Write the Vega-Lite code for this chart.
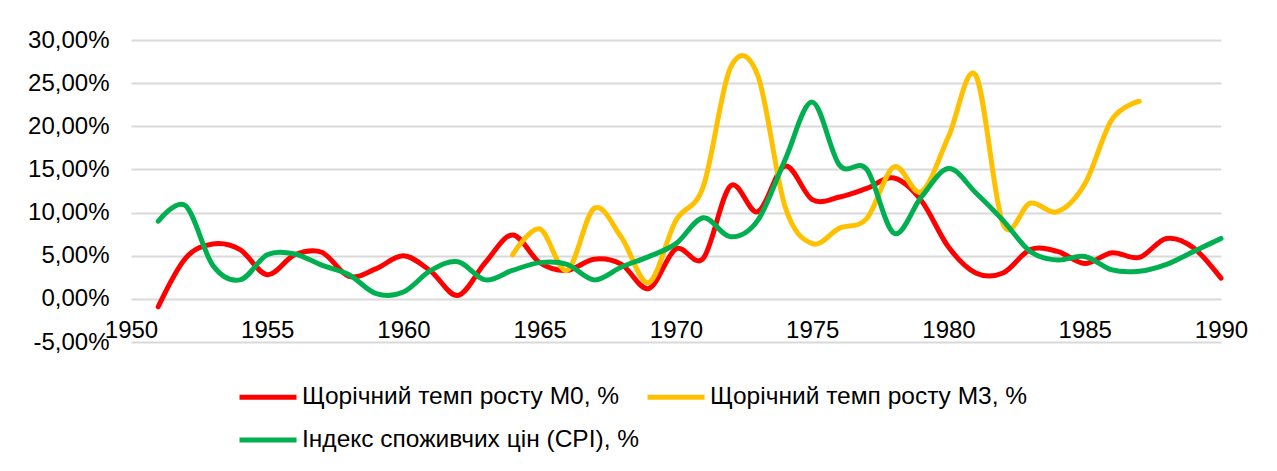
{
  "$schema": "https://vega.github.io/schema/vega-lite/v6.json",
  "width": 1090,
  "height": 302,
  "autosize": {"type": "none"},
  "padding": {"left": 131, "top": 40, "right": 56, "bottom": 129},
  "background": "white",
  "config": {"font": "Liberation Sans", "view": {"stroke": null}},
  "data": {"values": [
    {"year": 1951, "series": "Щорічний темп росту М0, %", "value": -0.009},
    {"year": 1952, "series": "Щорічний темп росту М0, %", "value": 0.047},
    {"year": 1953, "series": "Щорічний темп росту М0, %", "value": 0.0635},
    {"year": 1954, "series": "Щорічний темп росту М0, %", "value": 0.057},
    {"year": 1955, "series": "Щорічний темп росту М0, %", "value": 0.028},
    {"year": 1956, "series": "Щорічний темп росту М0, %", "value": 0.051},
    {"year": 1957, "series": "Щорічний темп росту М0, %", "value": 0.054},
    {"year": 1958, "series": "Щорічний темп росту М0, %", "value": 0.026},
    {"year": 1959, "series": "Щорічний темп росту М0, %", "value": 0.035},
    {"year": 1960, "series": "Щорічний темп росту М0, %", "value": 0.050},
    {"year": 1961, "series": "Щорічний темп росту М0, %", "value": 0.032},
    {"year": 1962, "series": "Щорічний темп росту М0, %", "value": 0.004},
    {"year": 1963, "series": "Щорічний темп росту М0, %", "value": 0.042},
    {"year": 1964, "series": "Щорічний темп росту М0, %", "value": 0.074},
    {"year": 1965, "series": "Щорічний темп росту М0, %", "value": 0.042},
    {"year": 1966, "series": "Щорічний темп росту М0, %", "value": 0.033},
    {"year": 1967, "series": "Щорічний темп росту М0, %", "value": 0.046},
    {"year": 1968, "series": "Щорічний темп росту М0, %", "value": 0.040},
    {"year": 1969, "series": "Щорічний темп росту М0, %", "value": 0.012},
    {"year": 1970, "series": "Щорічний темп росту М0, %", "value": 0.058},
    {"year": 1971, "series": "Щорічний темп росту М0, %", "value": 0.047},
    {"year": 1972, "series": "Щорічний темп росту М0, %", "value": 0.131},
    {"year": 1973, "series": "Щорічний темп росту М0, %", "value": 0.101},
    {"year": 1974, "series": "Щорічний темп росту М0, %", "value": 0.154},
    {"year": 1975, "series": "Щорічний темп росту М0, %", "value": 0.115},
    {"year": 1976, "series": "Щорічний темп росту М0, %", "value": 0.118},
    {"year": 1977, "series": "Щорічний темп росту М0, %", "value": 0.128},
    {"year": 1978, "series": "Щорічний темп росту М0, %", "value": 0.140},
    {"year": 1979, "series": "Щорічний темп росту М0, %", "value": 0.114},
    {"year": 1980, "series": "Щорічний темп росту М0, %", "value": 0.060},
    {"year": 1981, "series": "Щорічний темп росту М0, %", "value": 0.030},
    {"year": 1982, "series": "Щорічний темп росту М0, %", "value": 0.030},
    {"year": 1983, "series": "Щорічний темп росту М0, %", "value": 0.057},
    {"year": 1984, "series": "Щорічний темп росту М0, %", "value": 0.055},
    {"year": 1985, "series": "Щорічний темп росту М0, %", "value": 0.041},
    {"year": 1986, "series": "Щорічний темп росту М0, %", "value": 0.0535},
    {"year": 1987, "series": "Щорічний темп росту М0, %", "value": 0.048},
    {"year": 1988, "series": "Щорічний темп росту М0, %", "value": 0.070},
    {"year": 1989, "series": "Щорічний темп росту М0, %", "value": 0.059},
    {"year": 1990, "series": "Щорічний темп росту М0, %", "value": 0.024},
    {"year": 1964, "series": "Щорічний темп росту М3, %", "value": 0.051},
    {"year": 1965, "series": "Щорічний темп росту М3, %", "value": 0.081},
    {"year": 1966, "series": "Щорічний темп росту М3, %", "value": 0.033},
    {"year": 1967, "series": "Щорічний темп росту М3, %", "value": 0.105},
    {"year": 1968, "series": "Щорічний темп росту М3, %", "value": 0.071},
    {"year": 1969, "series": "Щорічний темп росту М3, %", "value": 0.019},
    {"year": 1970, "series": "Щорічний темп росту М3, %", "value": 0.091},
    {"year": 1971, "series": "Щорічний темп росту М3, %", "value": 0.130},
    {"year": 1972, "series": "Щорічний темп росту М3, %", "value": 0.268},
    {"year": 1973, "series": "Щорічний темп росту М3, %", "value": 0.259},
    {"year": 1974, "series": "Щорічний темп росту М3, %", "value": 0.107},
    {"year": 1975, "series": "Щорічний темп росту М3, %", "value": 0.064},
    {"year": 1976, "series": "Щорічний темп росту М3, %", "value": 0.082},
    {"year": 1977, "series": "Щорічний темп росту М3, %", "value": 0.093},
    {"year": 1978, "series": "Щорічний темп росту М3, %", "value": 0.153},
    {"year": 1979, "series": "Щорічний темп росту М3, %", "value": 0.124},
    {"year": 1980, "series": "Щорічний темп росту М3, %", "value": 0.188},
    {"year": 1981, "series": "Щорічний темп росту М3, %", "value": 0.259},
    {"year": 1982, "series": "Щорічний темп росту М3, %", "value": 0.087},
    {"year": 1983, "series": "Щорічний темп росту М3, %", "value": 0.111},
    {"year": 1984, "series": "Щорічний темп росту М3, %", "value": 0.101},
    {"year": 1985, "series": "Щорічний темп росту М3, %", "value": 0.133},
    {"year": 1986, "series": "Щорічний темп росту М3, %", "value": 0.208},
    {"year": 1987, "series": "Щорічний темп росту М3, %", "value": 0.229},
    {"year": 1951, "series": "Індекс споживчих цін (CPI), %", "value": 0.090},
    {"year": 1952, "series": "Індекс споживчих цін (CPI), %", "value": 0.108},
    {"year": 1953, "series": "Індекс споживчих цін (CPI), %", "value": 0.039},
    {"year": 1954, "series": "Індекс споживчих цін (CPI), %", "value": 0.022},
    {"year": 1955, "series": "Індекс споживчих цін (CPI), %", "value": 0.051},
    {"year": 1956, "series": "Індекс споживчих цін (CPI), %", "value": 0.052},
    {"year": 1957, "series": "Індекс споживчих цін (CPI), %", "value": 0.039},
    {"year": 1958, "series": "Індекс споживчих цін (CPI), %", "value": 0.028},
    {"year": 1959, "series": "Індекс споживчих цін (CPI), %", "value": 0.006},
    {"year": 1960, "series": "Індекс споживчих цін (CPI), %", "value": 0.008},
    {"year": 1961, "series": "Індекс споживчих цін (CPI), %", "value": 0.033},
    {"year": 1962, "series": "Індекс споживчих цін (CPI), %", "value": 0.043},
    {"year": 1963, "series": "Індекс споживчих цін (CPI), %", "value": 0.022},
    {"year": 1964, "series": "Індекс споживчих цін (CPI), %", "value": 0.033},
    {"year": 1965, "series": "Індекс споживчих цін (CPI), %", "value": 0.042},
    {"year": 1966, "series": "Індекс споживчих цін (CPI), %", "value": 0.040},
    {"year": 1967, "series": "Індекс споживчих цін (CPI), %", "value": 0.022},
    {"year": 1968, "series": "Індекс споживчих цін (CPI), %", "value": 0.037},
    {"year": 1969, "series": "Індекс споживчих цін (CPI), %", "value": 0.049},
    {"year": 1970, "series": "Індекс споживчих цін (CPI), %", "value": 0.064},
    {"year": 1971, "series": "Індекс споживчих цін (CPI), %", "value": 0.094},
    {"year": 1972, "series": "Індекс споживчих цін (CPI), %", "value": 0.072},
    {"year": 1973, "series": "Індекс споживчих цін (CPI), %", "value": 0.091},
    {"year": 1974, "series": "Індекс споживчих цін (CPI), %", "value": 0.161},
    {"year": 1975, "series": "Індекс споживчих цін (CPI), %", "value": 0.228},
    {"year": 1976, "series": "Індекс споживчих цін (CPI), %", "value": 0.155},
    {"year": 1977, "series": "Індекс споживчих цін (CPI), %", "value": 0.150},
    {"year": 1978, "series": "Індекс споживчих цін (CPI), %", "value": 0.076},
    {"year": 1979, "series": "Індекс споживчих цін (CPI), %", "value": 0.118},
    {"year": 1980, "series": "Індекс споживчих цін (CPI), %", "value": 0.151},
    {"year": 1981, "series": "Індекс споживчих цін (CPI), %", "value": 0.123},
    {"year": 1982, "series": "Індекс споживчих цін (CPI), %", "value": 0.091},
    {"year": 1983, "series": "Індекс споживчих цін (CPI), %", "value": 0.055},
    {"year": 1984, "series": "Індекс споживчих цін (CPI), %", "value": 0.045},
    {"year": 1985, "series": "Індекс споживчих цін (CPI), %", "value": 0.049},
    {"year": 1986, "series": "Індекс споживчих цін (CPI), %", "value": 0.0335},
    {"year": 1987, "series": "Індекс споживчих цін (CPI), %", "value": 0.032},
    {"year": 1988, "series": "Індекс споживчих цін (CPI), %", "value": 0.040},
    {"year": 1989, "series": "Індекс споживчих цін (CPI), %", "value": 0.055},
    {"year": 1990, "series": "Індекс споживчих цін (CPI), %", "value": 0.070}
  ]},
  "mark": {"type": "line", "interpolate": "cardinal", "strokeWidth": 5, "strokeCap": "round", "strokeJoin": "round"},
  "encoding": {
    "x": {
      "field": "year", "type": "quantitative",
      "scale": {"domain": [1950, 1990], "nice": false, "zero": false},
      "axis": {
        "title": null, "values": [1950, 1955, 1960, 1965, 1970, 1975, 1980, 1985, 1990],
        "format": "d", "offset": -43, "domain": false, "ticks": false, "grid": false,
        "labelFontSize": 24, "labelColor": "#000000", "labelPadding": 19, "labelFlush": false, "labelOverlap": false
      }
    },
    "y": {
      "field": "value", "type": "quantitative",
      "scale": {"domain": [-0.05, 0.30], "nice": false, "zero": false},
      "axis": {
        "title": null, "values": [-0.05, 0, 0.05, 0.10, 0.15, 0.20, 0.25, 0.30],
        "labelExpr": "replace(replace(format(datum.value, '.2%'), '.', ','), '−', '-')",
        "domain": false, "ticks": false, "gridColor": "#d9d9d9", "gridWidth": 2,
        "labelFontSize": 24, "labelPadding": 22, "labelColor": "#000000", "labelOverlap": false
      }
    },
    "color": {
      "field": "series", "type": "nominal",
      "scale": {
        "domain": ["Щорічний темп росту М0, %", "Щорічний темп росту М3, %", "Індекс споживчих цін (CPI), %"],
        "range": ["#ff0000", "#ffc000", "#00b050"]
      },
      "legend": {
        "title": null, "orient": "none", "legendX": 106, "legendY": 326,
        "direction": "horizontal", "columns": 2, "padding": 0,
        "symbolType": "stroke", "symbolStrokeWidth": 5, "symbolSize": 3249,
        "labelFontSize": 24.5, "labelColor": "#000000", "labelLimit": 600, "labelOffset": 3,
        "rowPadding": -12, "columnPadding": -3
      }
    }
  }
}
